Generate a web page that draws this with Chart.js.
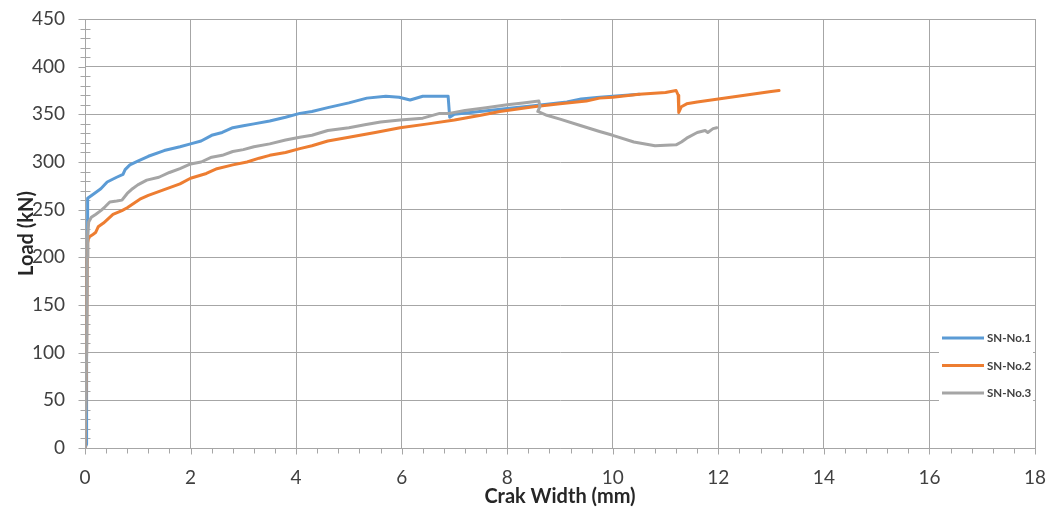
<!DOCTYPE html>
<html>
<head>
<meta charset="utf-8">
<script src="https://cdn.jsdelivr.net/npm/chart.js@4.4.1/dist/chart.umd.min.js"></script>
<style>
  html,body{margin:0;padding:0;background:#fff;}
  #wrap{width:1056px;height:512px;}
</style>
</head>
<body>
<div id="wrap"><canvas id="c" width="1056" height="512"></canvas></div>
<script>
// ---- data (crack width mm, load kN) ----
const seriesNames = ["SN-No.1", "SN-No.2", "SN-No.3"];
const seriesColors = ["#5b9bd5", "#ed7d31", "#a5a5a5"];

const sn1 = [[0,0],[0.03,4],[0.03,100],[0.04,200],[0.05,262],[0.15,266],[0.3,272],[0.42,279],[0.6,284],[0.72,287],[0.76,292],[0.85,297],[1.0,301],[1.2,306],[1.5,312],[1.8,316],[2.0,319],[2.2,322],[2.4,328],[2.6,331],[2.8,336],[3.0,338],[3.2,340],[3.5,343],[3.8,347],[4.07,351],[4.3,353],[4.6,357],[5.0,362],[5.34,367],[5.7,369],[5.95,368],[6.16,365],[6.4,369],[6.6,369],[6.88,369],[6.91,347],[7.0,350],[7.48,353],[8.0,356],[8.5,359],[9.13,363],[9.4,366],[9.75,368],[10.0,369],[10.5,371]];

const sn2 = [[0,0],[0.03,100],[0.04,200],[0.05,215],[0.07,221],[0.15,224],[0.2,226],[0.25,232],[0.35,236],[0.53,245],[0.7,249],[0.8,252],[1.04,261],[1.2,265],[1.5,271],[1.8,277],[2.0,283],[2.3,288],[2.5,293],[2.8,297],[3.07,300],[3.3,304],[3.5,307],[3.8,310],[4.07,314],[4.3,317],[4.6,322],[5.0,326],[5.5,331],[5.97,336],[6.5,340],[7.0,344],[7.5,349],[7.86,353],[8.5,358],[9.0,361],[9.5,364],[9.75,367],[10.0,368],[10.5,371],[11.0,373],[11.2,375],[11.24,370],[11.25,352],[11.3,358],[11.4,361],[11.6,363],[12.0,366],[12.5,370],[13.0,374],[13.15,375]];

const sn3 = [[0,0],[0.03,100],[0.04,200],[0.05,222],[0.07,237],[0.12,242],[0.2,245],[0.3,249],[0.38,253],[0.47,258],[0.6,259],[0.7,260],[0.8,267],[0.9,272],[1.0,276],[1.17,281],[1.4,284],[1.6,289],[1.8,293],[2.0,298],[2.2,300],[2.4,305],[2.6,307],[2.8,311],[3.0,313],[3.2,316],[3.5,319],[3.8,323],[4.07,326],[4.3,328],[4.6,333],[5.0,336],[5.3,339],[5.6,342],[5.97,344],[6.4,346],[6.72,351],[6.9,351],[7.2,354],[7.6,357],[8.0,360],[8.3,362],[8.6,364],[8.62,358],[8.58,353],[8.75,349],[9.0,345],[9.4,338],[9.75,332],[10.0,328],[10.4,321],[10.8,317],[11.2,318],[11.3,321],[11.4,325],[11.6,331],[11.75,333],[11.8,331],[11.9,335],[11.97,336]];

const xTicks = [0,2,4,6,8,10,12,14,16,18];
const yTicks = [0,50,100,150,200,250,300,350,400,450];
const xTitle = "Crak Width (mm)";
const yTitle = "Load (kN)";

const GRID = '#a6a6a6';
const FONT = 'Lato, "Liberation Sans", sans-serif';
const toPts = arr => arr.map(p => ({x:p[0], y:p[1]}));

const minorTicks = {
  id:'minorTicks',
  beforeDatasetsDraw(chart){
    const {ctx, scales:{x,y}} = chart;
    ctx.save();
    ctx.strokeStyle = GRID; ctx.lineWidth = 1;
    const x0 = Math.round(x.getPixelForValue(0)) + 0.5;
    const y0 = Math.round(y.getPixelForValue(0)) + 0.5;
    ctx.beginPath();
    for (let v = 0; v <= 450; v += 10) {
      const py = Math.round(y.getPixelForValue(v)) + 0.5;
      if (v % 50 === 0) { ctx.moveTo(x0 - 7, py); ctx.lineTo(x0, py); }
      else { ctx.moveTo(x0 - 5, py); ctx.lineTo(x0 + 5, py); }
    }
    for (let i = 0; i <= 45; i++) {
      const v = i * 0.4;
      const px = Math.round(x.getPixelForValue(v)) + 0.5;
      if (i % 5 === 0) { ctx.moveTo(px, y0); ctx.lineTo(px, y0 + 6); }
      else { ctx.moveTo(px, y0); ctx.lineTo(px, y0 + 5); }
    }
    ctx.stroke();
    ctx.restore();
  }
};

const boxLegend = {
  id:'boxLegend',
  afterDatasetsDraw(chart){
    const {ctx} = chart;
    ctx.save();
    ctx.fillStyle = '#fff';
    ctx.fillRect(939, 322, 94, 88);
    const ys = [338, 365.5, 393];
    ctx.font = 'bold 11.5px ' + FONT;
    ctx.textBaseline = 'middle';
    ctx.textAlign = 'left';
    seriesNames.forEach((n, i) => {
      ctx.strokeStyle = seriesColors[i];
      ctx.lineWidth = 3;
      ctx.beginPath(); ctx.moveTo(942, ys[i]); ctx.lineTo(984, ys[i]); ctx.stroke();
      ctx.fillStyle = '#404040';
      ctx.fillText(n, 987, ys[i] + 0.5);
    });
    ctx.restore();
  }
};

const mk = (data, i, order) => ({
  label: seriesNames[i], data: toPts(data), showLine: true,
  borderColor: seriesColors[i], backgroundColor: seriesColors[i],
  borderWidth: 3, pointRadius: 0, tension: 0, order: order,
  borderJoinStyle: 'round', borderCapStyle: 'round'
});

new Chart(document.getElementById('c'), {
  type: 'scatter',
  data: { datasets: [ mk(sn1,0,2), mk(sn2,1,1), mk(sn3,2,0) ] },
  options: {
    responsive: false, animation: false,
    layout: { padding: { top: 19, right: 21, left: 0, bottom: 0 } },
    plugins: { legend: { display: false }, tooltip: { enabled: false } },
    scales: {
      x: {
        type: 'linear', min: 0, max: 18,
        afterBuildTicks: s => { s.ticks = xTicks.map(v => ({value:v})); },
        afterFit: s => { s.height = 64; s.paddingLeft = 0; s.paddingRight = 0; },
        grid: { color: GRID, lineWidth: 1, drawTicks: false },
        border: { color: GRID, width: 1 },
        ticks: { padding: 18, color: '#404040', font: { family: FONT, size: 19 }, maxRotation: 0 },
        title: { display: true, text: xTitle, color: '#262626', padding: { top: 0, bottom: 3 },
                 font: { family: FONT, size: 20, weight: 'bold' } }
      },
      y: {
        type: 'linear', min: 0, max: 450,
        afterBuildTicks: s => { s.ticks = yTicks.map(v => ({value:v})); },
        afterFit: s => { s.width = 85; s.paddingTop = 0; s.paddingBottom = 0; },
        grid: { color: GRID, lineWidth: 1, drawTicks: false },
        border: { color: GRID, width: 1 },
        ticks: { padding: 20, color: '#404040', font: { family: FONT, size: 19 } },
        title: { display: true, text: yTitle, color: '#262626', padding: { top: 15, bottom: 0 },
                 font: { family: FONT, size: 20, weight: 'bold' } }
      }
    }
  },
  plugins: [minorTicks, boxLegend]
});
</script>
</body>
</html>
